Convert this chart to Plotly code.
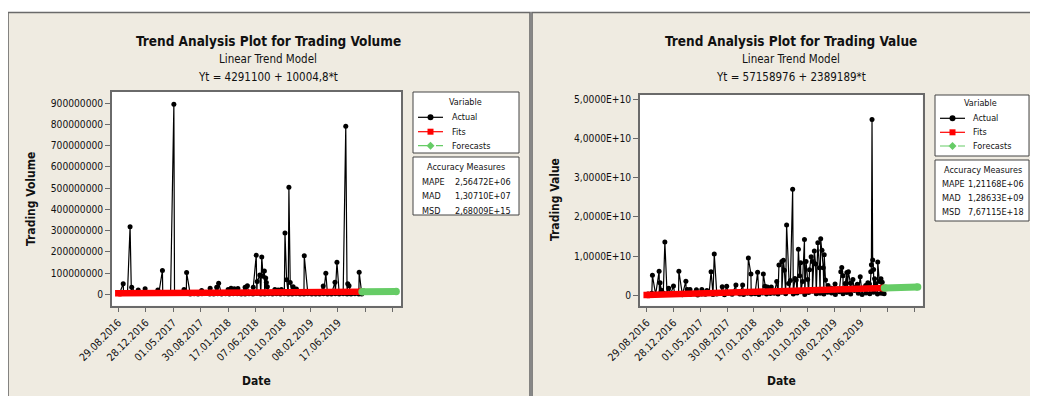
import numpy as np
import plotly.graph_objects as go

# page offset of the figure (default 8px body margin) and figure size
OX, OY = 8, 8
W, H = 1030, 388
FONT = "DejaVu Sans Condensed, DejaVu Sans"

# ---------------- data ----------------
tick_t = [1, 85, 169, 253, 337, 421, 505, 589, 673, 757, 841]
tick_dates = ["29.08.2016", "28.12.2016", "01.05.2017", "30.08.2017", "17.01.2018",
              "07.06.2018", "10.10.2018", "08.02.2019", "17.06.2019", "", ""]

# Trading Volume (millions) - visible spikes
vol_spike_t = [16, 37, 42, 62, 83, 122, 136, 171, 202, 210, 256, 282, 302, 308, 337, 346, 356, 367,
               389, 396, 414, 423, 426, 434, 440, 444, 448, 452, 454, 457, 480, 490, 500, 511, 516,
               523, 527, 536, 546, 570, 628, 636, 664, 670, 697, 703, 707, 738]
vol_spike_m = [50, 318, 33, 20, 26, 20, 112, 895, 22, 102, 18, 28, 33, 52, 22, 28, 26, 27,
               33, 40, 33, 184, 60, 91, 176, 85, 110, 76, 55, 35, 22, 20, 22, 288, 68,
               504, 55, 35, 25, 181, 39, 99, 57, 151, 792, 50, 40, 104]
# Trading Volume (millions) - low baseline observations
vol_base_t = [5, 17, 29, 41, 53, 65, 77, 89, 101, 113, 125, 137, 149, 161, 173, 185, 197, 209,
              221, 233, 245, 257, 269, 281, 293, 305, 317, 329, 341, 353, 365, 377, 389, 401, 413,
              425, 437, 449, 461, 473, 485, 497, 509, 521, 533, 545, 557, 569, 581, 593, 605, 617,
              629, 641, 653, 665, 677, 689, 701, 713, 725, 737, 746]
vol_base_m = [4.5, 6, 3.5, 5, 7, 4, 5.5, 3, 6.5, 4, 5, 3.5, 6, 4.5, 5, 3, 5.5, 4,
              1.5, 2.5, 1, 2, 3, 1.5, 0.8, 2.2, 1.2, 2.8, 1, 1.8, 2.5, 0.6, 1.4, 2, 1,
              3, 1.6, 0.9, 2.4, 1.2, 1.8, 0.7, 2.6, 1.1, 1.5, 2.1, 0.8, 1.3, 2.7, 1, 1.7,
              0.6, 2.2, 1.4, 0.9, 2.5, 1.2, 1.9, 0.8, 1.6, 2.3, 1.0, 1.2]
vol_fit_t = [1, 746]
vol_fit = [4.30e6, 11.75e6]
vol_fc_t = [747, 851]
vol_fc = [11.76e6, 12.81e6]
vol_ticks = [0, 100000000, 200000000, 300000000, 400000000, 500000000,
             600000000, 700000000, 800000000, 900000000]
vol_tick_text = [str(v) for v in vol_ticks]

# Trading Value (billions) - visible spikes
val_spike_t = [19, 40, 43, 47, 58, 70, 85, 102, 124, 128, 137, 157, 174, 190, 203, 213, 238, 252,
               281, 302, 320, 328, 349, 367, 372, 380, 392, 409, 416, 425, 430, 433, 440, 446,
               452, 459, 466, 470, 477, 481, 484, 490, 496, 501, 506, 512, 517, 521, 527, 531,
               538, 543, 547, 551, 555, 558, 562, 570, 580, 592, 600, 610, 613, 617, 624, 629,
               634, 640, 648, 655, 662, 671, 680, 688, 695, 700, 704, 706, 708, 710, 713, 716,
               719, 726, 731, 736, 740, 744]
val_spike_b = [5.1, 6.1, 3.2, 1.3, 13.6, 1.8, 2.4, 6.1, 3.6, 1.5, 1.5, 1.4, 1.5, 1.2, 6.0, 10.5, 2.2, 2.3,
               2.6, 2.6, 9.5, 5.4, 5.9, 5.4, 2.3, 2.1, 2.1, 3.5, 7.7, 8.6, 8.9, 6.4, 17.9, 3.0,
               3.8, 27.0, 4.3, 3.9, 11.7, 5.0, 8.3, 3.5, 14.2, 8.6, 4.0, 6.5, 9.8, 8.6, 11.3, 8.0,
               13.4, 7.0, 14.4, 11.5, 7.0, 10.3, 3.9, 2.5, 1.8, 2.9, 1.6, 6.0, 7.1, 5.0, 3.0, 5.8,
               6.0, 3.1, 4.0, 2.0, 2.8, 4.7, 1.8, 2.5, 3.2, 2.9, 6.0, 7.8, 44.8, 9.0, 6.6, 4.2,
               3.0, 8.5, 3.5, 4.2, 3.3, 2.0]
val_base_t = vol_base_t
val_base_b = [0.3, 0.5, 0.2, 0.4, 0.6, 0.3, 0.5, 0.2,
              0.3, 0.15, 0.4, 0.2, 0.5, 0.1, 0.35, 0.25, 0.6, 0.2, 0.3, 0.45, 0.15, 0.5, 0.25,
              0.7, 0.3, 0.2, 0.55, 0.35, 0.4, 0.2, 0.6, 0.3, 0.45,
              0.5, 0.3, 0.8, 0.4, 1.1, 0.3, 0.6, 0.9, 0.2, 0.7, 1.0, 0.4, 0.5, 0.3, 0.8, 0.6,
              0.2, 0.9, 0.4, 0.7, 0.3, 1.2, 0.5, 0.2, 0.6, 0.4, 0.8, 0.3, 0.5, 0.4]
val_fit_t = [1, 746]
val_fit = [5.95e7, 1.8395e9]
val_fc_t = [747, 851]
val_fc = [1.8419e9, 2.0904e9]
val_ticks = [0, 1e10, 2e10, 3e10, 4e10, 5e10]
val_tick_text = ["0", "1,0000E+10", "2,0000E+10", "3,0000E+10", "4,0000E+10", "5,0000E+10"]

vol_acc = [("MAPE", "2,56472E+06"), ("MAD", "1,30710E+07"), ("MSD", "2,68009E+15")]
val_acc = [("MAPE", "1,21168E+06"), ("MAD", "1,28633E+09"), ("MSD", "7,67115E+18")]


def merged(ta, va, tb, vb, scale):
    t = np.array(list(ta) + list(tb), dtype=float)
    v = np.array(list(va) + list(vb), dtype=float) * scale
    o = np.argsort(t, kind="stable")
    return t[o], v[o]


vol_t, vol_v = merged(vol_spike_t, vol_spike_m, vol_base_t, vol_base_m, 1e6)
val_t, val_v = merged(val_spike_t, val_spike_b, val_base_t, val_base_b, 1e9)

# ---------------- figure ----------------
BLACK = "#000000"
RED = "#FF0000"
GREEN = "#66CC66"
BEIGE = "#EFEBE1"
FRAME = "#6A6A6A"

fig = go.Figure()


def add_panel(t, v, ft, fv, ct, cv, xa, ya):
    fig.add_trace(go.Scatter(x=t, y=v, mode="lines+markers", xaxis=xa, yaxis=ya,
                             line=dict(color=BLACK, width=1.2),
                             marker=dict(color=BLACK, size=5, symbol="circle"),
                             showlegend=False, hoverinfo="skip"))
    fig.add_trace(go.Scatter(x=ft, y=fv, mode="lines+markers", xaxis=xa, yaxis=ya,
                             line=dict(color=RED, width=6.5),
                             marker=dict(color=RED, size=6.5, symbol="square"),
                             showlegend=False, hoverinfo="skip"))
    fig.add_trace(go.Scatter(x=ct, y=cv, mode="lines+markers", xaxis=xa, yaxis=ya,
                             line=dict(color=GREEN, width=7),
                             marker=dict(color=GREEN, size=7.5, symbol="circle"),
                             showlegend=False, hoverinfo="skip"))


add_panel(vol_t, vol_v, vol_fit_t, vol_fit, vol_fc_t, vol_fc, "x", "y")
add_panel(val_t, val_v, val_fit_t, val_fit, val_fc_t, val_fc, "x2", "y2")


def px(x):
    return (x - OX) / W


def py(y):
    return 1 - (y - OY) / H


xcommon = dict(tickmode="array", tickvals=tick_t, ticktext=tick_dates, tickangle=-45,
               ticks="outside", ticklen=5, tickcolor=FRAME, showline=True, linecolor=FRAME,
               linewidth=1.5, mirror=True, showgrid=False, zeroline=False, automargin=False,
               tickfont=dict(size=10.5, color="#111111", family=FONT))
ycommon = dict(tickmode="array", ticks="outside", ticklen=5, tickcolor=FRAME, showline=True,
               linecolor=FRAME, linewidth=1.5, mirror=True, showgrid=False, zeroline=False,
               automargin=False, tickfont=dict(size=10.2, color="#111111", family=FONT))

fig.update_layout(
    width=W, height=H, margin=dict(l=0, r=0, t=0, b=0, autoexpand=False),
    paper_bgcolor="white", plot_bgcolor="white",
    font=dict(family=FONT, color="#111111"),
    xaxis=dict(domain=[px(112), px(401)], range=[-18.3, 866], anchor="y", **xcommon),
    yaxis=dict(domain=[py(305.7), py(92)], range=[-54e6, 953e6], anchor="x",
               tickvals=vol_ticks, ticktext=vol_tick_text, **ycommon),
    xaxis2=dict(domain=[px(640), px(922.7)], range=[-20, 867], anchor="y2", **xcommon),
    yaxis2=dict(domain=[py(305.7), py(94.7)], range=[-2.65e9, 5.11e10], anchor="x2",
                tickvals=val_ticks, ticktext=val_tick_text, **ycommon),
)

shapes = []


def rect(x0, y0, x1, y1, fill, line, width, layer="below"):
    shapes.append(dict(type="rect", xref="paper", yref="paper", x0=px(x0), x1=px(x1),
                       y0=py(y1), y1=py(y0), fillcolor=fill, layer=layer,
                       line=dict(color=line, width=width)))


# panel backgrounds
rect(8, 12.5, 530, 410, BEIGE, FRAME, 1.6)
rect(532, 12.5, 1050, 410, BEIGE, FRAME, 1.6)
# white plot areas
for xr, yr in (("x", "y"), ("x2", "y2")):
    shapes.append(dict(type="rect", xref=xr + " domain", yref=yr + " domain", x0=0, x1=1,
                       y0=0, y1=1, fillcolor="white", line=dict(width=0), layer="below"))

annotations = []


def text(x, y, s, size, bold=False, xanchor="center", angle=0):
    annotations.append(dict(xref="paper", yref="paper", x=px(x), y=py(y), text=("<b>%s</b>" % s) if bold else s,
                            showarrow=False, xanchor=xanchor, yanchor="middle", textangle=angle,
                            font=dict(size=size, family=FONT, color="#111111")))


# titles
text(268, 41, "Trend Analysis Plot for Trading Volume", 13.5, bold=True)
text(268, 59, "Linear Trend Model", 11.5)
text(268, 77, "Yt = 4291100 + 10004,8*t", 11.5)
text(791, 41, "Trend Analysis Plot for Trading Value", 13.5, bold=True)
text(791, 59, "Linear Trend Model", 11.5)
text(791, 77, "Yt = 57158976 + 2389189*t", 11.5)
# axis titles
text(256.5, 381, "Date", 12, bold=True)
text(781, 381, "Date", 12, bold=True)
text(31, 199, "Trading Volume", 12, bold=True, angle=-90)
text(555, 200, "Trading Value", 12, bold=True, angle=-90)


def legend(bx0, bx1, vy0, vy1, ay0, ay1, vhx, vhy, rows_y, lx0, lx1, tx, ahx, ahy, acc_rows, labx, valx, acc):
    rect(bx0, vy0, bx1, vy1, "white", "#444444", 1, layer="above")
    rect(bx0, ay0, bx1, ay1, "white", "#444444", 1, layer="above")
    text(vhx, vhy, "Variable", 9)
    cols = [BLACK, RED, GREEN]
    names = ["Actual", "Fits", "Forecasts"]
    mx = (lx0 + lx1) / 2
    for i, (yy, c, n) in enumerate(zip(rows_y, cols, names)):
        shapes.append(dict(type="line", xref="paper", yref="paper", x0=px(lx0), x1=px(lx1),
                           y0=py(yy), y1=py(yy), layer="above",
                           line=dict(color=c, width=1.2, dash="dash" if i == 2 else "solid")))
        if i == 0:
            shapes.append(dict(type="circle", xref="paper", yref="paper", x0=px(mx - 3), x1=px(mx + 3),
                               y0=py(yy + 3), y1=py(yy - 3), fillcolor=c, line=dict(color=c, width=0), layer="above"))
        elif i == 1:
            shapes.append(dict(type="rect", xref="paper", yref="paper", x0=px(mx - 3), x1=px(mx + 3),
                               y0=py(yy + 3), y1=py(yy - 3), fillcolor=c, line=dict(color=c, width=0), layer="above"))
        else:
            path = "M %f %f L %f %f L %f %f L %f %f Z" % (px(mx - 4), py(yy), px(mx), py(yy - 4),
                                                          px(mx + 4), py(yy), px(mx), py(yy + 4))
            shapes.append(dict(type="path", xref="paper", yref="paper", path=path, fillcolor=c,
                               line=dict(color=c, width=0), layer="above"))
        text(tx, yy, n, 9, xanchor="left")
    text(ahx, ahy, "Accuracy Measures", 9)
    for yy, (lab, val) in zip(acc_rows, acc):
        text(labx, yy, lab, 9, xanchor="left")
        text(valx, yy, val, 9, xanchor="right")


legend(413, 519, 92, 153, 157, 215, 465.3, 102, [117.3, 131.7, 145.7], 418, 443, 450,
       466.4, 167.3, [181.7, 195.5, 210.5], 420, 513, vol_acc)
legend(935, 1029, 95, 156, 160, 221, 980, 103.3, [118.3, 132.3, 146], 940, 965, 970.7,
       983, 170, [184.3, 198.3, 212.3], 940, 1026, val_acc)

fig.update_layout(shapes=shapes, annotations=annotations)
fig.write_html("out.html")
